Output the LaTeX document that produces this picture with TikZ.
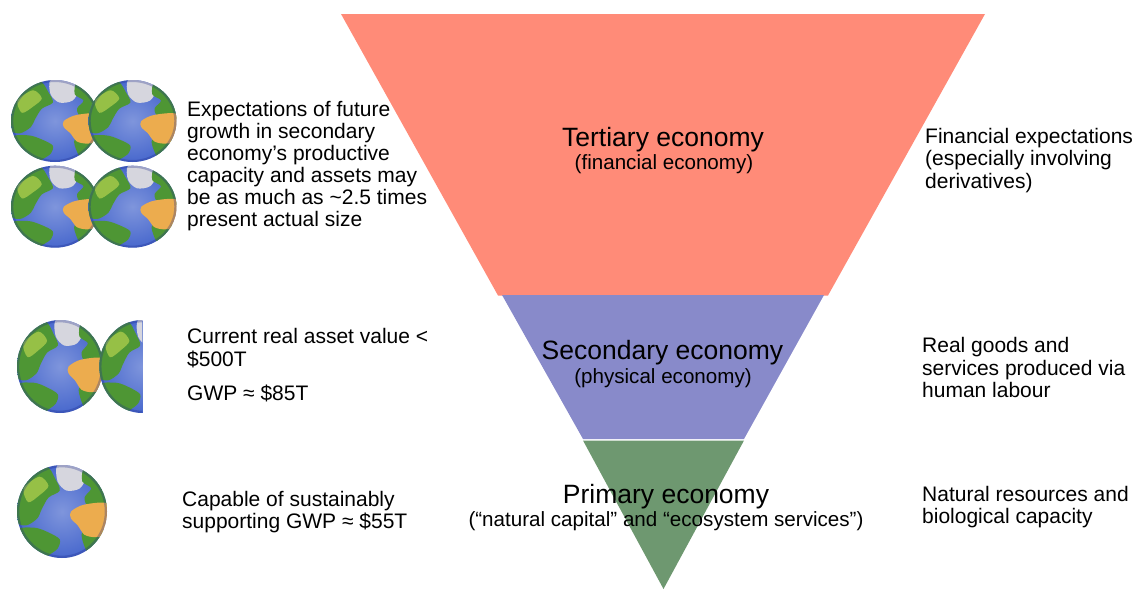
\documentclass[tikz,border=0pt]{standalone}
\usepackage{fontspec}
\setmainfont{Liberation Sans}
\definecolor{tert}{RGB}{255,139,120}
\definecolor{sec}{RGB}{136,138,202}
\definecolor{prim}{RGB}{110,152,112}
\definecolor{ocean}{RGB}{72,104,205}
\definecolor{oceandk}{RGB}{30,45,140}
\definecolor{land}{RGB}{78,150,52}
\definecolor{landlt}{RGB}{150,192,70}
\definecolor{desert}{RGB}{236,172,78}
\definecolor{ice}{RGB}{214,214,222}
\tikzset{
  globe/.pic={
    \begin{scope}
      \clip (0,0) circle (1);
      \shade[inner color=ocean!70!white, outer color=ocean] (0,0) circle (1);
      \fill[land] plot[smooth cycle] coordinates {(-1.05,-0.3) (-0.75,-0.8) (-0.35,-0.98) (-0.15,-0.7) (-0.05,-0.45) (-0.3,-0.3) (-0.45,-0.05) (-0.55,0.15) (-0.8,0.3) (-1.05,0.2)};
      \fill[landlt] plot[smooth cycle] coordinates {(-0.85,-0.5) (-0.5,-0.75) (-0.3,-0.55) (-0.5,-0.35) (-0.75,-0.2)};
      \fill[land] plot[smooth cycle] coordinates {(-1.0,0.4) (-0.6,0.35) (-0.3,0.45) (-0.05,0.6) (-0.1,0.8) (-0.3,0.95) (-0.4,1.1) (-0.9,0.9)};
      \fill[ice] plot[smooth cycle] coordinates {(-0.1,-1.0) (0.3,-1.02) (0.55,-0.8) (0.4,-0.5) (0.1,-0.45) (-0.1,-0.65)};
      \fill[land] plot[smooth cycle] coordinates {(0.5,-0.95) (0.85,-0.75) (1.05,-0.4) (1.05,-0.05) (0.6,-0.1) (0.5,-0.3) (0.65,-0.5) (0.45,-0.65)};
      \fill[land] plot[smooth cycle] coordinates {(0.45,0.45) (0.85,0.4) (1.05,0.5) (0.9,0.95) (0.65,1.0) (0.5,0.75)};
      \fill[desert] plot[smooth cycle] coordinates {(0.2,0.0) (0.5,-0.15) (1.05,-0.15) (1.05,0.45) (0.75,0.55) (0.5,0.5) (0.35,0.3) (0.2,0.15)};
      \fill[oceandk, opacity=0.3, even odd rule] (0,0) circle (1) circle (0.95);
    \end{scope}
  },
  body/.style={font=\fontsize{21}{22}\selectfont, inner sep=0pt, anchor=base west},
  title/.style={font=\fontsize{26.5}{30}\selectfont, inner sep=0pt, anchor=base},
  subtitle/.style={font=\fontsize{20.6}{24}\selectfont, inner sep=0pt, anchor=base},
}
\begin{document}
\begin{tikzpicture}[x=1pt,y=-1pt]
\useasboundingbox (0,0) rectangle (1140,589);
% pyramid
\fill[tert] (341,14) -- (985,14) -- (828,295.5) -- (498,295.5) -- cycle;
\fill[sec] (502,295) -- (824,295) -- (744,439) -- (583,439) -- cycle;
\fill[prim] (583,440.5) -- (744,440.5) -- (663.5,589) -- cycle;

% titles
\node[title] (tt) at (663,146.7) {Tertiary economy};
\node[subtitle] (ts) at (664,169.3) {(financial economy)};
\node[title] (st) at (662.5,359) {Secondary economy};
\node[subtitle] (ss) at (663,383.7) {(physical economy)};
\node[title] (pt) at (666,503) {Primary economy};
\node[subtitle] (ps) at (666,526) {(“natural capital” and “ecosystem services”)};

% globes
\pic[xscale=44,yscale=41] (ga) at (55,121) {globe};
\pic[xscale=44,yscale=41] (gb) at (132.5,121) {globe};
\pic[xscale=44,yscale=41] (gc) at (55,206.7) {globe};
\pic[xscale=44,yscale=41] (gd) at (132.5,206.7) {globe};
\pic[xscale=43,yscale=46.5] (ge) at (60,366.5) {globe};
\begin{scope}
  \clip (90,310) rectangle (142.3,420);
  \pic[xscale=43,yscale=46.5] (gf) at (142.3,366.5) {globe};
\end{scope}
\pic[xscale=45,yscale=46.5] (gg) at (62,511.5) {globe};

% left texts
\node[body] (lexp) at (187,116.7) {\parbox[t]{300pt}{Expectations of future\\growth in secondary\\economy’s productive\\capacity and assets may\\be as much as \textasciitilde2.5 times\\present actual size}};
\node[body, font=\fontsize{21}{23}\selectfont] (lcur) at (187,343.5) {\parbox[t]{300pt}{Current real asset value <\\\$500T}};
\node[body] (lgwp) at (187,400.7) {GWP ≈ \$85T};
\node[body, font=\fontsize{21}{21.5}\selectfont] (lcap) at (182,506.7) {\parbox[t]{300pt}{Capable of sustainably\\supporting GWP ≈ \$55T}};

% right texts
\node[body, font=\fontsize{21}{22.3}\selectfont] (rfin) at (925,143.5) {\parbox[t]{300pt}{Financial expectations\\(especially involving\\derivatives)}};
\node[body, font=\fontsize{21}{22.5}\selectfont] (rreal) at (922,352.5) {\parbox[t]{300pt}{Real goods and\\services produced via\\human labour}};
\node[body, font=\fontsize{21}{22.5}\selectfont] (rnat) at (922,501) {\parbox[t]{300pt}{Natural resources and\\biological capacity}};
\end{tikzpicture}
\end{document}
